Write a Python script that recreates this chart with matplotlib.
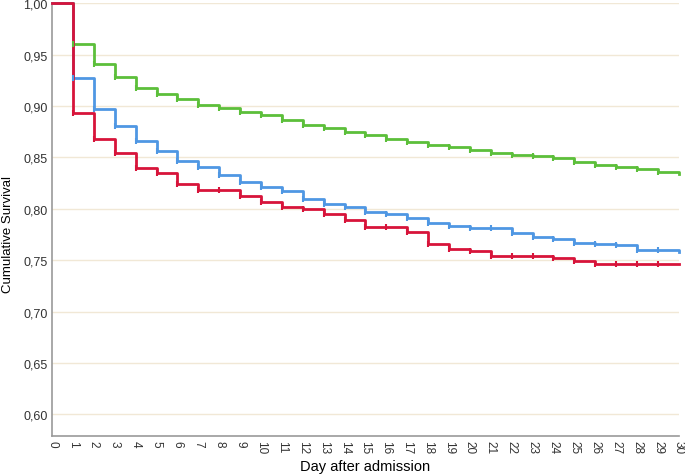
import matplotlib
matplotlib.use("Agg")
import matplotlib.pyplot as plt
import numpy as np

plt.rcParams['font.family'] = ['Liberation Sans', 'DejaVu Sans']

days = list(range(0, 31))

# cumulative survival per day (value after the step at that day)
green = [1.000, 0.960, 0.941, 0.928, 0.918, 0.912, 0.907, 0.901, 0.898, 0.894,
         0.891, 0.886, 0.882, 0.879, 0.875, 0.872, 0.868, 0.865, 0.862, 0.860,
         0.857, 0.854, 0.852, 0.851, 0.849, 0.846, 0.843, 0.841, 0.839, 0.836,
         0.834]
blue = [1.000, 0.927, 0.897, 0.881, 0.866, 0.856, 0.847, 0.841, 0.833, 0.826,
        0.821, 0.817, 0.810, 0.805, 0.802, 0.797, 0.795, 0.791, 0.786, 0.783,
        0.781, 0.781, 0.776, 0.773, 0.771, 0.767, 0.766, 0.765, 0.760, 0.760,
        0.758]
red = [1.000, 0.893, 0.868, 0.854, 0.840, 0.835, 0.824, 0.818, 0.818, 0.812,
       0.807, 0.802, 0.800, 0.795, 0.789, 0.782, 0.782, 0.777, 0.766, 0.761,
       0.759, 0.754, 0.754, 0.754, 0.752, 0.749, 0.746, 0.746, 0.746, 0.746,
       0.746]

yticks = [0.60, 0.65, 0.70, 0.75, 0.80, 0.85, 0.90, 0.95, 1.00]

fig = plt.figure(figsize=(6.85, 4.77), dpi=100)
ax = fig.add_axes([0.076, 0.084, 0.915, 0.907])

series = [(green, '#5cbf3a'), (blue, '#4f97e3'), (red, '#d7143a')]
for vals, col in series:
    ax.step(days, vals, where='post', color=col, lw=2, clip_on=False, zorder=3)
    # censor marks
    ax.plot(days[1:-1], vals[1:-1], ls='none', marker='|', ms=5, mew=1.5,
            color=col, zorder=4)

ax.set_xlim(0, 30)
ax.set_ylim(0.579, 1.0)
ax.set_xticks(days)
ax.set_xticklabels([str(d) for d in days], rotation=270, fontsize=8.5, color='#333333')
ax.set_yticks(yticks)
ax.set_yticklabels([f"{v:.2f}".replace('.', ',') for v in yticks], fontsize=9, color='#333333')
ax.tick_params(length=0, pad=3)
ax.grid(axis='y', color='#f1e8d6', lw=1)
ax.set_axisbelow(True)

for s in ['top', 'right']:
    ax.spines[s].set_visible(False)
for s in ['left', 'bottom']:
    ax.spines[s].set_color('#999999')
    ax.spines[s].set_linewidth(1.2)

ax.set_xlabel('Day after admission', fontsize=10.5, labelpad=4)
ax.set_ylabel('Cumulative Survival', fontsize=9.5)
ax.yaxis.set_label_coords(-0.061, 0.468)

plt.savefig('out.png', dpi=100)
